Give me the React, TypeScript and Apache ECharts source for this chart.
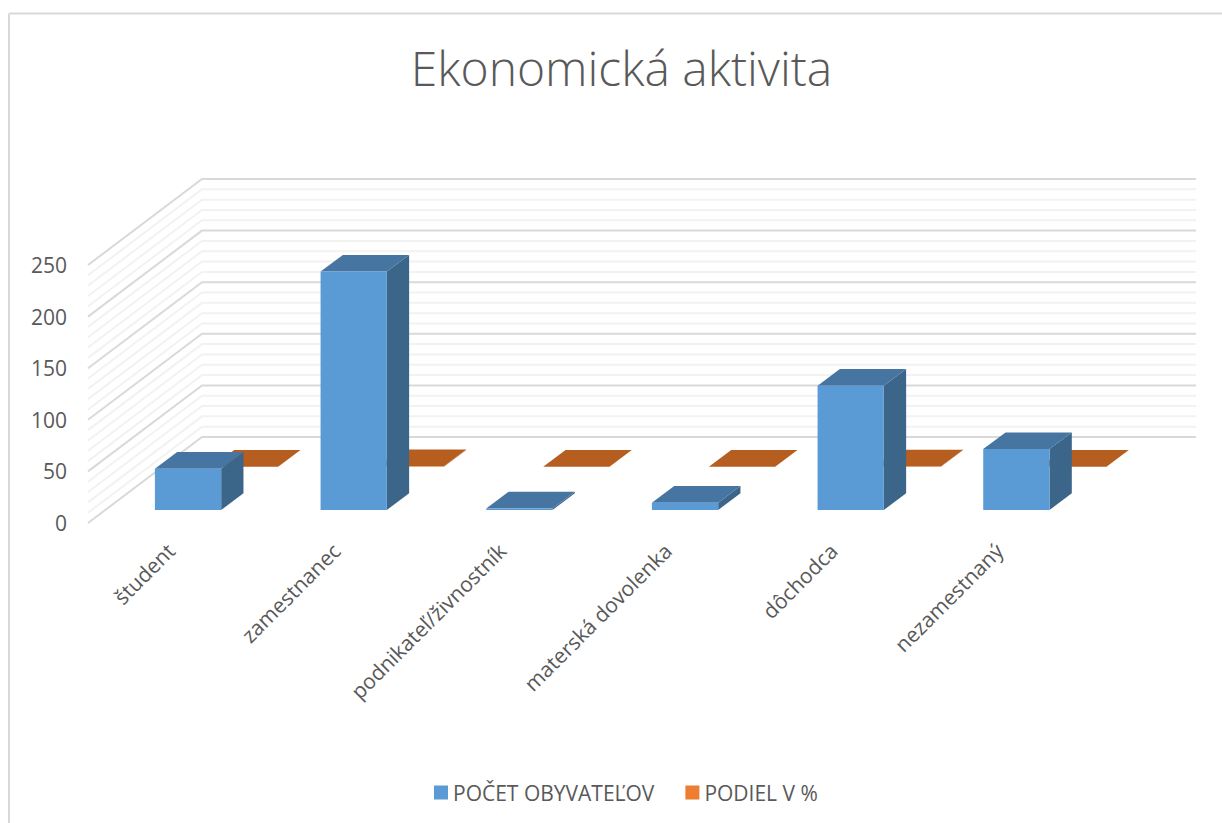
import React, { useEffect, useRef } from "react";
import * as echarts from "echarts";

const categories = ["študent", "zamestnanec", "podnikateľ/živnostník", "materská dovolenka", "dôchodca", "nezamestnaný"];
const obyvatelov = [40, 231, 1.5, 7, 120.5, 59];
const podiel = [0.09, 0.5, 0.002, 0.015, 0.26, 0.13];
const gridTicks = [0, 10, 20, 30, 40, 50, 60, 70, 80, 90, 100, 110, 120, 130, 140, 150, 160, 170, 180, 190, 200, 210, 220, 230, 240, 250];
const seriesNames = ["POČET OBYVATEĽOV", "PODIEL V %"];

const WALL_DX = 114;
const WALL_DY = -86;
const BAR_DX = 22.3;
const BAR_DY = -16.7;
const ROW_DX = 57;
const ROW_DY = -43.2;
const FIRST_DX = 17.2;
const FIRST_DY = -13;

const gridRender = (params: any, api: any) => {
  const v = api.value(1);
  const p = api.coord([0, v]);
  const cs = params.coordSys;
  const major = v % 50 === 0;
  return {
    type: "polyline",
    silent: true,
    shape: {
      points: [
        [cs.x, p[1]],
        [cs.x + WALL_DX, p[1] + WALL_DY],
        [cs.x + cs.width + WALL_DX, p[1] + WALL_DY],
      ],
    },
    style: { stroke: major ? "#d9d9d9" : "#f2f2f2", lineWidth: 2, fill: "none" },
    z2: major ? 2 : 1,
  };
};

const barRender = (row: number, front: string, top: string, side: string) => (_params: any, api: any) => {
  const i = api.value(0);
  const v = api.value(1);
  const t = api.coord([i, v]);
  const b = api.coord([i, 0]);
  const w = api.size([1, 0])[0] * 0.4;
  const ox = FIRST_DX + row * ROW_DX;
  const oy = FIRST_DY + row * ROW_DY;
  const x0 = t[0] + ox - w / 2;
  const x1 = x0 + w;
  const yt = t[1] + oy;
  const yb = b[1] + oy;
  return {
    type: "group",
    children: [
      { type: "polygon", shape: { points: [[x1, yt], [x1 + BAR_DX, yt + BAR_DY], [x1 + BAR_DX, yb + BAR_DY], [x1, yb]] }, style: { fill: side } },
      { type: "polygon", shape: { points: [[x0, yt], [x0 + BAR_DX, yt + BAR_DY], [x1 + BAR_DX, yt + BAR_DY], [x1, yt]] }, style: { fill: top } },
      { type: "rect", shape: { x: x0, y: yt, width: w, height: yb - yt }, style: { fill: front } },
    ],
  };
};

export default function App() {
  const ref = useRef<HTMLDivElement>(null);
  useEffect(() => {
    document.body.style.margin = "0";
    const chart = echarts.init(ref.current!, null, { renderer: "svg" });
    chart.setOption({
      animation: false,
      backgroundColor: "#ffffff",
      title: {
        text: "Ekonomická aktivita",
        left: 616.5,
        top: 38,
        textAlign: "center",
        textStyle: { fontFamily: "Open Sans", fontWeight: 300, fontSize: 48, color: "#595959" },
      },
      legend: {
        left: 434,
        top: 782,
        padding: 0,
        icon: "rect",
        itemWidth: 14,
        itemHeight: 14,
        itemGap: 31,
        data: seriesNames,
        textStyle: { fontFamily: "Open Sans", fontSize: 21, color: "#595959" },
      },
      grid: { left: 88, top: 265, width: 994, height: 258, containLabel: false },
      xAxis: {
        type: "category",
        data: categories,
        axisLine: { show: false },
        axisTick: { show: false },
        axisLabel: {
          interval: 0,
          rotate: 45,
          margin: 24,
          fontFamily: "Open Sans",
          fontSize: 21,
          color: "#595959",
        },
      },
      yAxis: {
        type: "value",
        min: 0,
        max: 250,
        interval: 50,
        splitLine: { show: false },
        axisLine: { show: false },
        axisTick: { show: false },
        axisLabel: { margin: 21, fontFamily: "Open Sans", fontSize: 21, color: "#595959" },
      },
      graphic: [
        { type: "line", shape: { x1: 9, y1: 13.5, x2: 1222, y2: 13.5 }, style: { stroke: "#d9d9d9", lineWidth: 2 }, silent: true },
        { type: "line", shape: { x1: 9, y1: 13.5, x2: 9, y2: 823 }, style: { stroke: "#d9d9d9", lineWidth: 2 }, silent: true },
      ],
      series: [
        {
          type: "custom",
          silent: true,
          renderItem: gridRender,
          clip: false,
          z: 1,
          encode: { x: 0, y: 1 },
          data: gridTicks.map((v) => [0, v]),
        },
        {
          name: seriesNames[1],
          type: "custom",
          renderItem: barRender(1, "#ed7d31", "#b55e20", "#8e4b1c"),
          clip: false,
          z: 2,
          itemStyle: { color: "#ed7d31" },
          encode: { x: 0, y: 1 },
          data: podiel.map((v, i) => [i, v]),
        },
        {
          name: seriesNames[0],
          type: "custom",
          renderItem: barRender(0, "#5b9bd5", "#4775a1", "#3b6589"),
          clip: false,
          z: 3,
          itemStyle: { color: "#5b9bd5" },
          encode: { x: 0, y: 1 },
          data: obyvatelov.map((v, i) => [i, v]),
        },
      ],
    });
    return () => chart.dispose();
  }, []);
  return <div ref={ref} style={{ width: 1222, height: 823 }} />;
}
